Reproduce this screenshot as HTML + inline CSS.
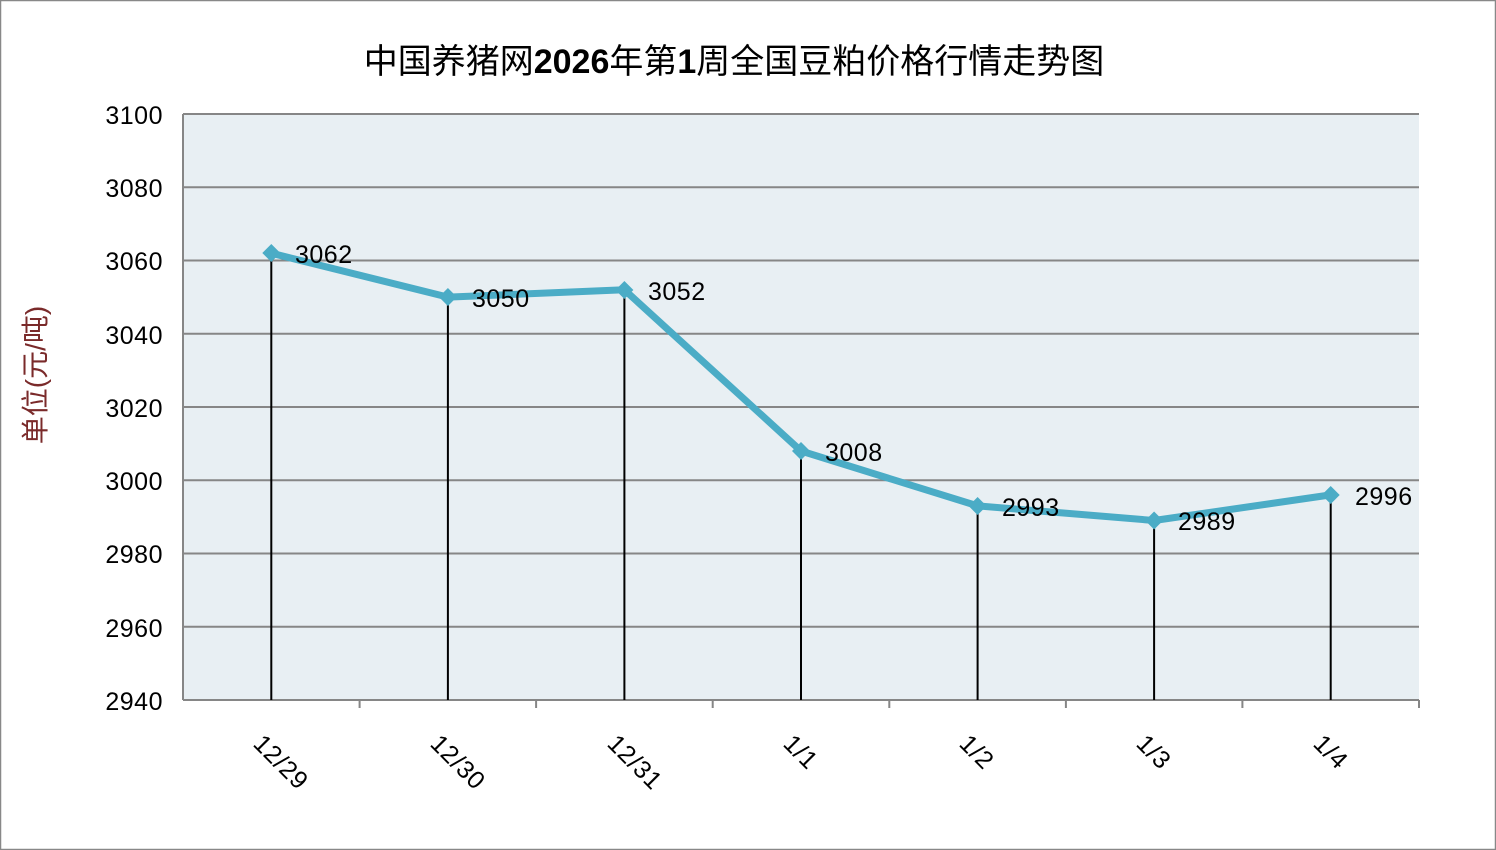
<!DOCTYPE html>
<html><head><meta charset="utf-8"><style>
html,body{margin:0;padding:0;background:#fff}
svg{display:block}
text{font-family:"Liberation Sans","Noto Sans CJK SC",sans-serif}
</style></head><body>
<svg width="1496" height="850" viewBox="0 0 1496 850">
<rect x="0.5" y="0.5" width="1495" height="849" fill="#fff" stroke="#888" stroke-width="1.5"/>
<text x="734" y="73" font-size="34" text-anchor="middle" fill="#000">中国养猪网<tspan font-weight="bold">2026</tspan>年第<tspan font-weight="bold">1</tspan>周全国豆粕价格行情走势图</text>
<rect x="183" y="114" width="1236" height="586" fill="#e8eff3"/>
<g stroke="#868686" stroke-width="2">
<line x1="183" y1="114" x2="1419" y2="114"/>
<line x1="183" y1="187.25" x2="1419" y2="187.25"/>
<line x1="183" y1="260.5" x2="1419" y2="260.5"/>
<line x1="183" y1="333.75" x2="1419" y2="333.75"/>
<line x1="183" y1="407" x2="1419" y2="407"/>
<line x1="183" y1="480.25" x2="1419" y2="480.25"/>
<line x1="183" y1="553.5" x2="1419" y2="553.5"/>
<line x1="183" y1="626.75" x2="1419" y2="626.75"/>
<line x1="183" y1="700" x2="1419" y2="700"/>
<line x1="183" y1="114" x2="183" y2="700"/>
<line x1="359.6" y1="700" x2="359.6" y2="708"/>
<line x1="536.1" y1="700" x2="536.1" y2="708"/>
<line x1="712.7" y1="700" x2="712.7" y2="708"/>
<line x1="889.3" y1="700" x2="889.3" y2="708"/>
<line x1="1065.9" y1="700" x2="1065.9" y2="708"/>
<line x1="1242.4" y1="700" x2="1242.4" y2="708"/>
<line x1="1419" y1="700" x2="1419" y2="708"/>
</g>
<g font-size="25" text-anchor="end" fill="#000" letter-spacing="0.5">
<text x="163" y="124">3100</text><text x="163" y="197">3080</text><text x="163" y="270">3060</text><text x="163" y="344">3040</text><text x="163" y="417">3020</text><text x="163" y="490">3000</text><text x="163" y="563">2980</text><text x="163" y="637">2960</text><text x="163" y="710">2940</text>
</g>
<text transform="translate(45,375) rotate(-90)" font-size="28" text-anchor="middle" fill="#7a2a2a">单位(元/吨)</text>
<g stroke="#000" stroke-width="2">
<line x1="271.3" y1="253" x2="271.3" y2="700"/><line x1="447.9" y1="297" x2="447.9" y2="700"/><line x1="624.4" y1="290" x2="624.4" y2="700"/><line x1="801" y1="451" x2="801" y2="700"/><line x1="977.6" y1="506" x2="977.6" y2="700"/><line x1="1154.1" y1="520.5" x2="1154.1" y2="700"/><line x1="1330.7" y1="495" x2="1330.7" y2="700"/>
</g>
<polyline points="271.3,253.2 447.9,297.1 624.4,289.8 801,451 977.6,505.9 1154.1,520.5 1330.7,494.9" fill="none" stroke="#4bacc6" stroke-width="7" stroke-linejoin="round"/>
<g fill="#4bacc6">
<path d="M271.3,244 l9,9 l-9,9 l-9,-9z"/><path d="M447.9,288 l9,9 l-9,9 l-9,-9z"/><path d="M624.4,281 l9,9 l-9,9 l-9,-9z"/><path d="M801,442 l9,9 l-9,9 l-9,-9z"/><path d="M977.6,497 l9,9 l-9,9 l-9,-9z"/><path d="M1154.1,511.5 l9,9 l-9,9 l-9,-9z"/><path d="M1330.7,486 l9,9 l-9,9 l-9,-9z"/>
</g>
<g font-size="25" fill="#000" letter-spacing="0.5">
<text x="295" y="263">3062</text><text x="472" y="307">3050</text><text x="648" y="300">3052</text><text x="825" y="461">3008</text><text x="1002" y="516">2993</text><text x="1178" y="530">2989</text><text x="1355" y="505">2996</text>
</g>
<g font-size="25" fill="#000" letter-spacing="0.5">
<text transform="translate(252,745) rotate(45)">12/29</text>
<text transform="translate(429,745) rotate(45)">12/30</text>
<text transform="translate(606,745) rotate(45)">12/31</text>
<text transform="translate(782,745) rotate(45)">1/1</text>
<text transform="translate(958,745) rotate(45)">1/2</text>
<text transform="translate(1135,745) rotate(45)">1/3</text>
<text transform="translate(1312,745) rotate(45)">1/4</text>
</g>
</svg>
</body></html>
